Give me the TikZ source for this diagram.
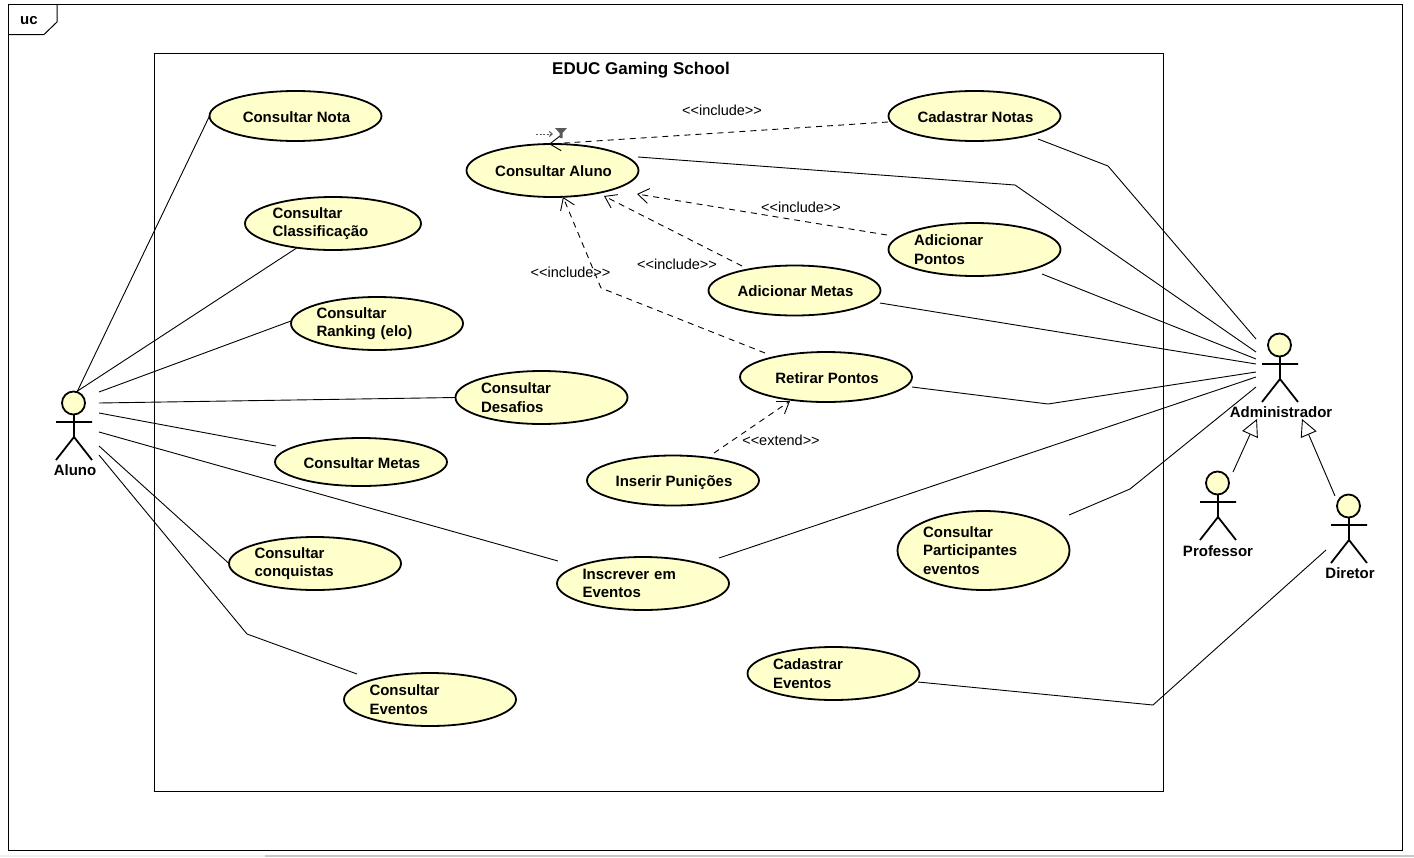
\documentclass[tikz,border=0pt]{standalone}
\usepackage{fontspec}
\setmainfont{Liberation Sans}
\usetikzlibrary{arrows.meta,positioning,shapes.geometric}

\tikzset{
  usecase/.style={ellipse,draw=black,line width=1.8pt,fill=casefill,inner sep=0pt,outer sep=0pt,
    minimum width=172pt,minimum height=50pt,font=\casefont,text height=12pt,text depth=0pt,
    execute at begin node={\hskip 2pt}},
  usecasetext/.style={ellipse,draw=black,line width=1.8pt,fill=casefill,inner sep=0pt,outer sep=0pt,
    minimum width=172pt,minimum height=53pt,font=\casefont,text width=121pt,align=left,
    execute at end node={\par\vskip -2pt}},
  actorbox/.style={inner sep=0pt,outer sep=0pt},
  actorname/.style={inner sep=0pt,font=\casefont},
  stereotype/.style={inner sep=0pt,font=\labelfont},
  framing/.style={line width=1pt},
  assoc/.style={line width=.9pt},
  depend/.style={line width=.9pt,dash pattern=on 6pt off 5pt,-{Straight Barb[length=11pt,width=15pt]}},
  general/.style={line width=.9pt,-{Triangle[open,length=17pt,width=17pt,fill=white]}},
  actorfig/.pic={
    \draw[line width=1.8pt,fill=casefill] (-.5,11) circle (11.5);
    \draw[line width=1.8pt] (0,22) -- (0,45) (-18,30) -- (18,30) (-18,68) -- (0,45) -- (18,68);
  }
}
\definecolor{casefill}{HTML}{FFFFCC}
\newcommand{\casefont}{\fontsize{15}{18.6}\selectfont\bfseries}
\newcommand{\labelfont}{\fontsize{14.5}{17}\selectfont}

\begin{document}
\begin{tikzpicture}[x=1pt,y=-1pt]
  \useasboundingbox (0,0) rectangle (1414,857);
  \fill[black!6] (0,855) rectangle (265,857);
  \fill[black!22] (265,855) rectangle (1414,857);

  % Frame and system
  \draw[framing] (8.5,4.5) rectangle (1402,850);
  \draw[framing] (8.5,34.5) -- (44,34.5) -- (57,22) -- (57,4.5);
  \node[actorname] (uc) at (29,21) {uc};
  \draw[framing] (154.5,53.5) rectangle (1163.5,791);
  \node[inner sep=0pt,font=\fontsize{17}{20}\selectfont\bfseries] (system) at (641,70) {EDUC Gaming School};

  % Node: use cases of Aluno
  \node[usecase] (nota) at (295.5,116) {Consultar Nota};
  \node[usecasetext,minimum width=176pt] (clas) at (333,223.5) {Consultar\\Classificação};
  \node[usecasetext] (rank) at (377,323.5) {Consultar\\Ranking (elo)};
  \node[usecasetext] (desa) at (541.5,397.5) {Consultar\\Desafios};
  \node[usecase,minimum height=48pt] (mets) at (361,462) {Consultar Metas};
  \node[usecasetext] (conq) at (315,563.5) {Consultar\\conquistas};
  \node[usecasetext] (even) at (430,699.5) {Consultar\\Eventos};
  \node[usecasetext] (insc) at (643,583.5) {Inscrever em\\Eventos};
  % Node: use cases of Administrador
  \node[usecase,minimum height=53pt] (cons) at (552.5,170.5) {Consultar Aluno};
  \node[usecase] (cadn) at (974.5,116) {Cadastrar Notas};
  \node[usecasetext] (adpo) at (974.5,249.5) {Adicionar\\Pontos};
  \node[usecase] (adme) at (794.5,290.5) {Adicionar Metas};
  \node[usecase] (reti) at (826,377) {Retirar Pontos};
  \node[usecase] (inse) at (673,480.5) {Inserir Punições};
  \node[usecasetext,minimum height=79pt] (part) at (983.5,550.5) {Consultar\\Participantes\\eventos};
  \node[usecasetext] (cade) at (833.5,673.5) {Cadastrar\\Eventos};

  % Node: actors
  \node[actorbox,minimum width=52pt,minimum height=66pt] (aluno) at (73,425) {};
  \pic at (74,392) {actorfig};
  \node[actorname] (alunoname) at (75,470) {Aluno};
  \node[actorbox,minimum width=48pt,minimum height=85pt] (admin) at (1280,376.5) {};
  \pic at (1280,334) {actorfig};
  \node[actorname] (adminname) at (1281,412) {Administrador};
  \node[actorbox,minimum width=30pt,minimum height=68pt] (prof) at (1218,506) {};
  \pic at (1218,472) {actorfig};
  \node[actorname] (profname) at (1218,551) {Professor};
  \node[actorbox,minimum width=28pt,minimum height=68pt] (dire) at (1349,530) {};
  \pic at (1349,495) {actorfig};
  \node[actorname] (direname) at (1350,573) {Diretor};

  % Edge: aluno -> use cases
  \draw[assoc] ([shift={(4,0)}]aluno.north) -- (nota.west);
  \draw[assoc] ([shift={(3,0)}]aluno.north) -- (clas.214);
  \draw[assoc] (aluno.north east) -- ([shift={(-86,-2.5)}]rank.center);
  \draw[assoc] ([shift={(0,11)}]aluno.north east) -- (desa.west);
  \draw[assoc] ([shift={(0,21)}]aluno.north east) -- ([shift={(-85,-16)}]mets.center);
  \draw[assoc] ([shift={(0,40)}]aluno.north east) -- ([shift={(-85,-22.5)}]insc.center);
  \draw[assoc] ([shift={(0,54)}]aluno.north east) -- (conq.west);
  \draw[assoc] ([shift={(0,63)}]aluno.north east) -- (247,634) -- ([shift={(-73,-25.5)}]even.center);
  % Edge: use cases -> admin
  \draw[assoc] ([shift={(63.5,23)}]cadn.center) -- (1108,166) -- ([shift={(0,5)}]admin.north west);
  \draw[assoc] ([shift={(85.5,-13.5)}]cons.center) -- (1015,185) -- ([shift={(0,18)}]admin.north west);
  \draw[assoc] ([shift={(67.5,24.5)}]adpo.center) -- ([shift={(0,25)}]admin.north west);
  \draw[assoc] ([shift={(85.5,12.5)}]adme.center) -- ([shift={(0,30)}]admin.north west);
  \draw[assoc] ([shift={(86,10)}]reti.center) -- (1048,404) -- ([shift={(0,38)}]admin.north west);
  \draw[assoc] ([shift={(76,-25.5)}]insc.center) -- ([shift={(0,43)}]admin.north west);
  \draw[assoc] ([shift={(85.5,-35.5)}]part.center) -- (1130,489) -- ([shift={(0,53)}]admin.north west);
  \draw[assoc] ([shift={(84.5,8.5)}]cade.center) -- (1153,705) -- ([shift={(-9,54)}]dire.north west);
  % Edge: prof -> admin, dire -> admin
  \draw[general] (prof.north east) -- ([shift={(1,0)}]admin.south west);
  \draw[general] (dire.north west) -- ([shift={(-2,0)}]admin.south east);
  % Edge: include and extend
  \draw[depend] ([shift={(-86.5,6)}]cadn.center) -- ([shift={(-3.5,-26.5)}]cons.center);
  \draw[depend] ([shift={(-87.5,-14.5)}]adpo.center) -- ([shift={(84.5,23.5)}]cons.center);
  \draw[depend] ([shift={(-52.5,-24.5)}]adme.center) -- ([shift={(51.5,25.5)}]cons.center);
  \draw[depend] ([shift={(-61,-24)}]reti.center) -- (601,288) -- ([shift={(10.5,26.5)}]cons.center);
  \draw[depend] ([shift={(41,-27.5)}]inse.center) -- ([shift={(-36,24)}]reti.center);

  % Small mark above Consultar Aluno
  \draw[black!65,line width=1pt,dash pattern=on 2pt off 1.5pt,-{Straight Barb[length=3pt,width=5pt]}] (536,134) -- (553,134);
  \fill[black!65] (555,128) -- (567,128) -- (562.5,133) -- (562.5,138) -- (559.5,138) -- (559.5,133) -- cycle;

  % Node: labels
  \node[stereotype] (lblcadn) at (722,110.5) {<{}<include>{}>};
  \node[stereotype] (lbladpo) at (801,207) {<{}<include>{}>};
  \node[stereotype] (lbladme) at (677,264.5) {<{}<include>{}>};
  \node[stereotype] (lblreti) at (570.5,272.5) {<{}<include>{}>};
  \node[stereotype] (lblinse) at (781,440) {<{}<extend>{}>};
\end{tikzpicture}
\end{document}
